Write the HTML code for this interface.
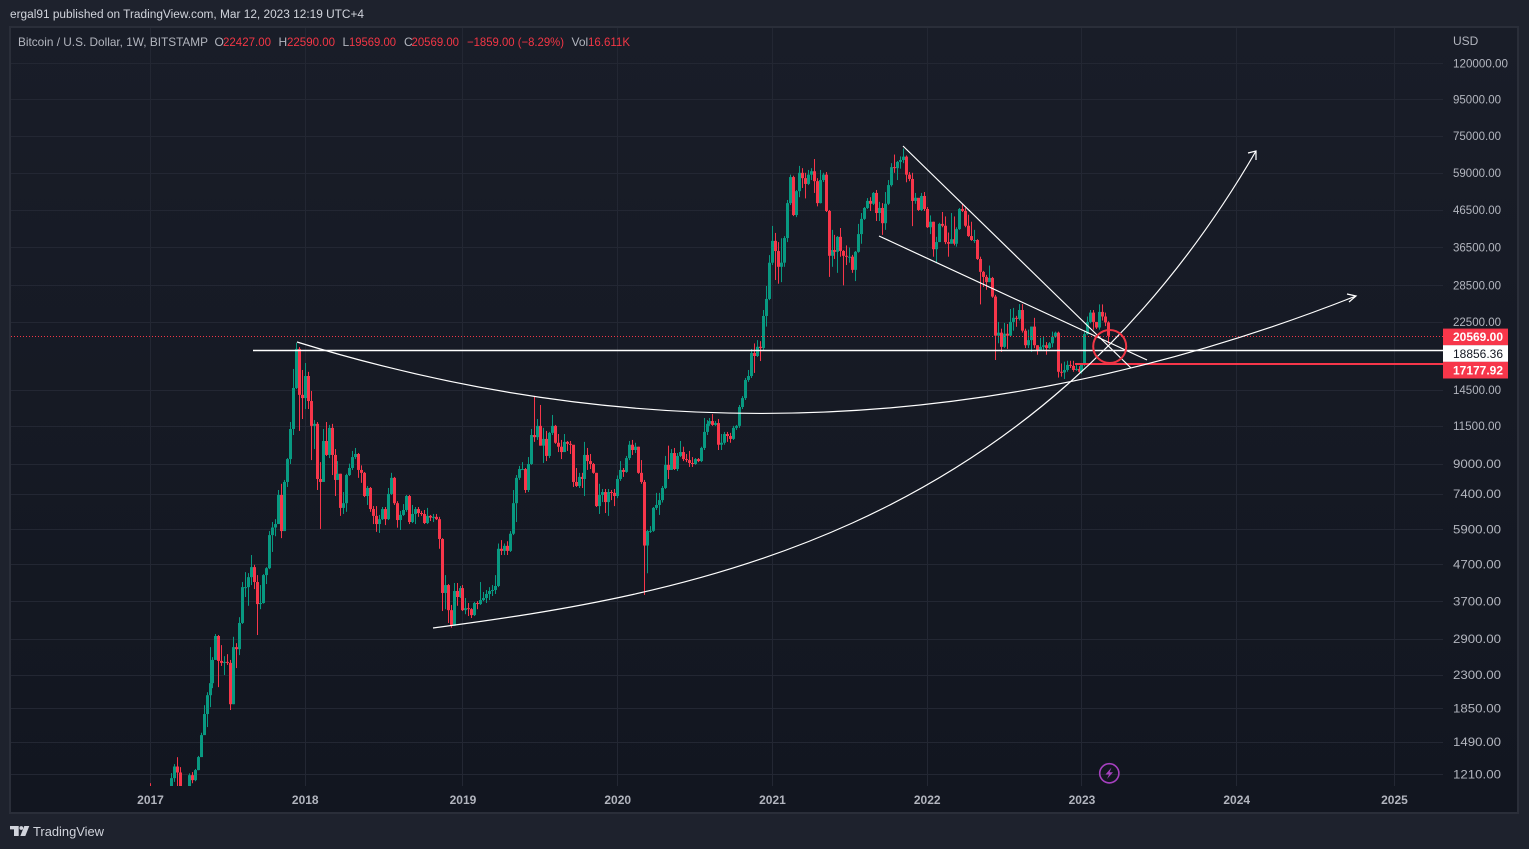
<!DOCTYPE html>
<html>
<head>
<meta charset="utf-8">
<title>Bitcoin / U.S. Dollar chart</title>
<style>
html,body{margin:0;padding:0;background:#1e222d;width:1529px;height:849px;overflow:hidden}
svg{display:block;font-family:"Liberation Sans",sans-serif}
</style>
</head>
<body>
<svg id="chart" xmlns="http://www.w3.org/2000/svg" width="1529" height="849" viewBox="0 0 1529 849">
  <defs>
    <linearGradient id="paneBg" x1="0" y1="0" x2="0" y2="1">
      <stop offset="0" stop-color="#191d28"/>
      <stop offset="1" stop-color="#121620"/>
    </linearGradient>
    <clipPath id="plotClip"><rect x="11" y="27" width="1432" height="759"/></clipPath>
  </defs>
  <rect x="0" y="0" width="1529" height="849" fill="#1e222d"/>
  <text x="10" y="18" font-size="11.5" fill="#d1d4dc" textLength="354" lengthAdjust="spacingAndGlyphs">ergal91 published on TradingView.com, Mar 12, 2023 12:19 UTC+4</text>
  <rect x="10" y="27" width="1508" height="786" fill="url(#paneBg)" stroke="#2a2e39" stroke-width="2"/>
  <g id="grid"></g>
  <g id="candles" clip-path="url(#plotClip)"></g>
  <g id="priceLines"></g>
  <g fill="none" stroke="#ffffff" stroke-width="1.2">
    <line x1="903" y1="146" x2="1131" y2="368"/>
    <line x1="879" y1="236" x2="1147" y2="360"/>
    <path d="M297 342 Q826 505 1356 296"/>
    <path d="M1347 294 L1356 296 L1349 302"/>
    <path d="M433 628 C680 595 1030 540 1256 151"/>
    <path d="M1248 153 L1256 151 L1256 160"/>
    <circle cx="1109.7" cy="346.5" r="16.5" stroke="#f23645" stroke-width="2"/>
  </g>
  <g id="axisLabels" font-size="12" fill="#b2b5be"></g>
  <text x="1453" y="45" font-size="12" fill="#b2b5be">USD</text>
  <g font-size="12">
    <text x="18" y="46" fill="#b2b5be" textLength="190" lengthAdjust="spacingAndGlyphs">Bitcoin / U.S. Dollar, 1W, BITSTAMP</text>
    <text x="214.5" y="46" fill="#b2b5be">O</text>
    <text x="223" y="46" fill="#f23645" textLength="48" lengthAdjust="spacingAndGlyphs">22427.00</text>
    <text x="278.5" y="46" fill="#b2b5be">H</text>
    <text x="287" y="46" fill="#f23645" textLength="48" lengthAdjust="spacingAndGlyphs">22590.00</text>
    <text x="342.5" y="46" fill="#b2b5be">L</text>
    <text x="349" y="46" fill="#f23645" textLength="47" lengthAdjust="spacingAndGlyphs">19569.00</text>
    <text x="404" y="46" fill="#b2b5be">C</text>
    <text x="411.5" y="46" fill="#f23645" textLength="47.5" lengthAdjust="spacingAndGlyphs">20569.00</text>
    <text x="467" y="46" fill="#f23645" textLength="97" lengthAdjust="spacingAndGlyphs">−1859.00 (−8.29%)</text>
    <text x="571.5" y="46" fill="#b2b5be">Vol</text>
    <text x="588" y="46" fill="#f23645" textLength="42" lengthAdjust="spacingAndGlyphs">16.611K</text>
  </g>
  <g>
    <circle cx="1109.3" cy="773.3" r="9.6" fill="none" stroke="#a640bf" stroke-width="1.6"/>
    <path d="M1111.5 767.5 L1105.5 774.5 L1109 774.5 L1107 779 L1113 772.3 L1109.6 772.3 Z" fill="#a640bf"/>
  </g>
  <g>
    <path fill="#d1d4dc" d="M10 826 H18.7 V836 H14 V829.4 H10 Z M29.3 826 L25.3 836 H20.3 L24.3 826 Z"/>
    <circle cx="21.3" cy="828" r="1.9" fill="#d1d4dc"/>
    <text x="33" y="836" font-size="13" fill="#d1d4dc" textLength="71" lengthAdjust="spacingAndGlyphs">TradingView</text>
  </g>
</svg>
<script>
var firstOpen = 963;
var closes = [
908,818,921,915,1013,1000,1055,1178,1270,1222,
1030,967,1085,1201,1163,1241,1350,1556,1783,2014,
2177,2530,2953,2514,2482,2498,2482,1900,2748,2712,
3213,4050,4050,4320,4610,4186,3630,3655,4378,4578,
5670,5955,6090,7350,5820,7995,9270,11260,14680,18900,
14040,13750,15860,13490,11490,11640,8150,7995,10420,9520,
11340,9520,8100,8430,6760,6970,8360,8750,9390,9580,
8640,8480,7300,7690,6710,6420,6090,6285,6710,6285,
7400,8210,6970,6250,6460,6670,7300,6170,6500,6710,
6540,6500,6130,6420,6350,6380,6285,5530,3900,4105,
3490,3155,3950,3800,4025,3490,3535,3512,3380,3655,
3630,3725,3775,3875,3950,3975,4080,5190,5120,5290,
5120,5720,6970,8210,8690,8690,7590,8980,10830,10680,
11490,10110,10560,9460,10980,11490,10300,10040,9700,10360,
10230,10170,7995,7790,8260,8150,9520,9150,8980,8480,
6840,7350,7490,7020,7490,7450,7300,8150,8640,8530,
9330,10170,9830,10040,8480,7995,5300,5820,5830,6760,
6890,7110,7690,8930,8640,9640,8690,9460,9700,9270,
9210,9040,8980,9270,9150,9960,11050,11640,11850,11560,
11700,10170,10300,10900,10760,10560,11340,11490,12980,13750,
15460,15860,18400,18050,19160,19000,23380,26100,32990,38000,
35580,32130,33000,38700,48500,57400,44900,52400,59000,57000,
54900,58300,59600,55900,48500,56300,58300,46100,34500,35800,
35400,39000,35600,34500,34300,34300,31500,35400,39700,43800,
47000,49200,48300,51800,45500,47000,42600,48300,54500,61200,
60800,63300,64100,65500,58300,56700,49200,50200,46400,50800,
46700,41500,43000,36000,37700,42400,41900,37700,37300,38400,
37300,41000,46700,46100,41900,39200,38200,38200,33800,31100,
30100,29100,29900,26500,20585,20990,19150,20850,20585,22500,
23100,22950,24300,21260,19350,20000,21830,19350,18770,19150,
19350,19000,19600,20450,20990,16300,16230,16490,17040,16930,
16490,16600,16300,17040,20800,22500,23900,22500,21700,24000,
23300,22427,20569];
var highs = [
1140,920,935,928,1020,1060,1065,1217,1290,1349,
1265,1060,1100,1215,1225,1250,1360,1580,1888,2053,
2748,2576,2992,2972,2784,2592,2626,2530,2938,2820,
3335,4186,4463,4434,4985,4680,4378,4105,4406,4608,
5820,6170,6285,7590,7900,8100,9330,11780,16600,19666,
19120,16490,17250,16290,14400,11930,11780,9090,11260,11780,
11560,11640,9890,9150,8430,7490,8430,9000,9770,9960,
9640,8900,8530,7790,7740,6840,6840,6460,6800,6800,
7690,8480,8260,7060,6630,6930,7350,7350,6890,6800,
6800,6630,6670,6760,6460,6500,6500,6380,5560,4378,
4132,3610,4160,4160,4080,4105,3775,3655,3535,3680,
3700,4186,3925,3975,4050,4105,4378,5370,5490,5370,
5450,5820,7590,8360,8870,9090,8750,9390,11260,13850,
12010,13150,11340,11120,11050,12330,11560,10900,10490,10900,
10420,10420,10040,8750,8480,8480,10360,9960,9580,9040,
8480,7900,7640,7640,7640,7590,7640,8340,9150,8750,
9460,10420,10490,10300,10040,9210,8100,5860,6010,6800,
7450,7450,7790,9460,10110,9890,9960,9640,10420,10040,
9580,9770,9390,9330,9330,10040,12090,11930,12090,12400,
11850,12010,10900,11050,11050,10980,11490,11560,13150,13930,
15660,16490,18890,19580,20000,19870,24300,28380,34660,41850,
40000,37700,38650,39200,49500,58300,57900,52800,61700,60800,
59000,60100,60800,64500,57000,60100,59000,59300,46400,40800,
39500,39200,41300,35800,36900,36400,34700,35600,42400,45500,
47300,50100,50400,52100,52800,48900,48500,52100,56300,62800,
66400,63700,65600,69000,66000,59300,59000,51800,50000,51800,
52100,47300,44800,43000,39000,42700,45800,44500,40100,45500,
44500,41500,47000,48300,47000,45000,43000,40800,38400,34300,
31300,30500,32400,30100,26800,22500,21540,22350,22200,24460,
24630,23400,25250,25250,21540,21400,21830,23100,19350,20300,
20450,19750,19750,21130,21130,21130,17200,17400,17500,17500,
17500,17100,16900,17100,21300,23300,24300,24300,22300,25200,
25200,23900,22590];
var lows = [
750,750,810,880,905,950,975,1040,1150,1000,
930,880,935,1085,1140,1155,1240,1350,1639,1639,
1864,2108,2530,2122,2434,2295,2450,1830,1900,2400,
2610,3192,3800,3590,4105,4000,2972,3512,3640,4132,
4550,5085,5630,6090,5560,5820,7740,8980,10830,14580,
11120,12010,12810,12810,9210,9890,7590,5900,7995,9460,
9330,8360,7300,8100,6420,6500,6590,8310,8640,9270,
8210,7950,7250,6890,6590,6090,5790,5750,6250,6050,
6250,7350,6890,5950,5860,6420,6590,6090,6130,6090,
6380,6420,6090,6090,6210,6170,6250,5190,3470,3512,
3213,3115,3155,3590,3775,3470,3400,3360,3317,3360,
3512,3610,3700,3655,3725,3825,3875,4050,4985,4985,
4985,5085,5670,6170,8100,8640,7450,7490,8930,10360,
10490,10110,9040,9150,9330,10830,10230,9700,9270,9700,
9770,9580,7740,7740,7690,7690,7300,8640,8690,8430,
6800,6500,7020,6540,6420,7110,6840,7200,8050,8260,
8480,9210,9520,9640,8430,7900,3850,4430,5750,5790,
6670,6460,7000,7640,8150,8640,8640,8580,9390,9150,
9090,8810,8810,8930,9090,9090,9830,10830,11490,11490,
11490,9830,9830,10170,10360,10300,10490,11190,11340,12810,
13580,15270,15660,16180,17930,17470,18770,21830,25900,32500,
29500,28800,29100,32130,37700,47900,44600,44300,50400,53500,
50000,54500,56300,51800,47500,48400,55600,45800,30100,32130,
33800,30900,34300,28500,32500,33000,30900,29300,35200,37300,
43500,46700,46100,47900,43200,43200,39500,40800,47900,54000,
59000,56300,60600,62800,55500,55900,41800,48300,46100,46100,
46100,41300,39700,34300,33000,37700,41500,37200,34300,37300,
36900,36600,40800,45800,41500,39000,38000,37500,33600,25200,
28200,27700,29100,26300,17590,19600,18530,19000,18900,20450,
21260,21800,22700,21000,19000,19000,18530,19000,18200,18650,
18770,18200,18900,19100,20300,15700,15800,15560,16300,16700,
16300,16400,16200,16100,16900,20700,22300,21400,21500,21400,
22700,21900,19569];
var priceTicks = [120000,95000,75000,59000,46500,36500,28500,22500,14500,11500,9000,7400,5900,4700,3700,2900,2300,1850,1490,1210];
var yearLabels = ['2017','2018','2019','2020','2021','2022','2023','2024','2025'];
var yearWeeks = [0,52,105,157,209,261,313,365,418];
var lastPrice = 20569;
var supportLevel = 18856.36;
var targetLevel = 17177.92;
var UP_COLOR = '#089981';
var DOWN_COLOR = '#f7364a';
var SVGNS = 'http://www.w3.org/2000/svg';

function xOfWeek(i) { return 150.5 + 2.976 * i; }
function yOfPrice(p) { return 63 + (711 / Math.log(120000 / 1210)) * Math.log(120000 / p); }
function make(tag, parent, attrs) {
  var el = document.createElementNS(SVGNS, tag);
  for (var k in attrs) el.setAttribute(k, attrs[k]);
  parent.appendChild(el);
  return el;
}

var grid = document.getElementById('grid');
var candlesLayer = document.getElementById('candles');
var priceLayer = document.getElementById('priceLines');
var labelLayer = document.getElementById('axisLabels');

priceTicks.forEach(function (p) {
  var y = Math.round(yOfPrice(p)) + 0.5;
  var line = make('line', grid, {x1: 11, x2: 1443, y1: y, y2: y, stroke: '#232733', 'stroke-width': 1});
  
  
  var label = make('text', labelLayer, {x: 1453, y: yOfPrice(p) + 4.3, textLength: String(p.toFixed(2)).length >= 9 ? 55 : 48, lengthAdjust: 'spacingAndGlyphs'});
  
  
  label.textContent = p.toFixed(2);
});

yearLabels.forEach(function (yr, n) {
  var x = Math.floor(xOfWeek(yearWeeks[n])) + 0.5;
  var line = make('line', grid, {x1: x, x2: x, y1: 28, y2: 786, stroke: '#232733', 'stroke-width': 1});
  
  
  var label = make('text', labelLayer, {x: xOfWeek(yearWeeks[n]), y: 804, 'text-anchor': 'middle', 'font-weight': 'bold'});
  
  
  label.textContent = yr;
});

closes.forEach(function (c, i) {
  var o = i === 0 ? firstOpen : closes[i - 1];
  var color = c >= o ? UP_COLOR : DOWN_COLOR;
  var cx = Math.floor(xOfWeek(i));
  var yHigh = yOfPrice(highs[i]);
  var yLow = yOfPrice(lows[i]);
  var yTop = yOfPrice(Math.max(o, c));
  var yBottom = yOfPrice(Math.min(o, c));
  var wick = make('rect', candlesLayer, {x: cx, y: yHigh, width: 1, height: Math.max(1, yLow - yHigh), fill: color});
  
  
  var body = make('rect', candlesLayer, {x: cx - 1, y: yTop, width: 3, height: Math.max(1, yBottom - yTop), fill: color});
  
  
});

var yLast = Math.round(yOfPrice(lastPrice)) + 0.5;
var lastLine = make('line', priceLayer, {x1: 11, x2: 1443, y1: yLast, y2: yLast, stroke: '#f23645', 'stroke-width': 1, 'stroke-dasharray': '1 2'});


var ySupport = Math.ceil(yOfPrice(supportLevel)) + 0.5;
var supportLine = make('line', priceLayer, {x1: 253, x2: 1443, y1: ySupport, y2: ySupport, stroke: '#ffffff', 'stroke-width': 1.4});


var yTarget = Math.round(yOfPrice(targetLevel));
var targetLine = make('line', priceLayer, {x1: 1075, x2: 1443, y1: yTarget, y2: yTarget, stroke: '#f7364a', 'stroke-width': 2});



function priceTag(value, slot, bg, fg, name) {
  var top = Math.round(yOfPrice(lastPrice)) - 7.4 + slot * 16.6;
  var box = make('rect', labelLayer, {x: 1443, y: top, width: 65, height: 16.7, fill: bg});
  
  
  var t = make('text', labelLayer, {x: 1453, y: top + 12.6, fill: fg, textLength: 50, lengthAdjust: 'spacingAndGlyphs', 'font-weight': bg === '#ffffff' ? 'normal' : 'bold'});
  
  
  t.textContent = value.toFixed(2);
}
priceTag(lastPrice, 0, '#f7364a', '#ffffff', 'last-price-tag');
priceTag(supportLevel, 1, '#ffffff', '#131722', 'support-price-tag');
priceTag(targetLevel, 2, '#f7364a', '#ffffff', 'target-price-tag');
</script>
</body>
</html>
